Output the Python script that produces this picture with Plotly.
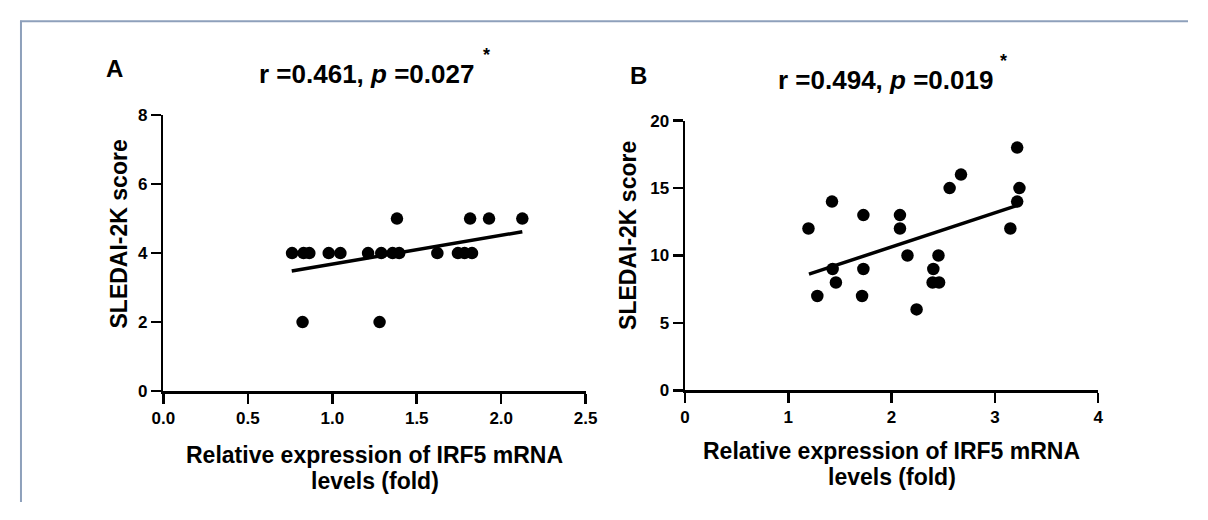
import plotly.graph_objects as go

# ---------------- data ----------------
a_x = [0.762, 0.830, 0.864, 0.979, 1.048, 1.212, 1.290, 1.357, 1.396, 1.622, 1.744, 1.783, 1.827,
       1.383, 1.816, 1.928, 2.125,
       0.824, 1.280]
a_y = [4, 4, 4, 4, 4, 4, 4, 4, 4, 4, 4, 4, 4,
       5, 5, 5, 5,
       2, 2]
a_fit_x = [0.76, 2.125]
a_fit_y = [3.48, 4.62]

b_x = [1.195, 1.423, 1.281, 1.429, 1.461, 1.727, 1.727, 1.714, 2.081, 2.081, 2.154,
       2.242, 2.404, 2.397, 2.460, 2.454, 2.562, 2.672, 3.150, 3.216, 3.238, 3.216]
b_y = [12, 14, 7, 9, 8, 13, 9, 7, 13, 12, 10,
       6, 9, 8, 8, 10, 15, 16, 12, 18, 15, 14]
b_fit_x = [1.20, 3.226]
b_fit_y = [8.62, 13.73]

a_xticks = [0.0, 0.5, 1.0, 1.5, 2.0, 2.5]
a_xticklabels = ["0.0", "0.5", "1.0", "1.5", "2.0", "2.5"]
a_yticks = [0, 2, 4, 6, 8]
b_xticks = [0, 1, 2, 3, 4]
b_yticks = [0, 5, 10, 15, 20]

title_a = "r =0.461, <i>p</i> =0.027"
title_b = "r =0.494, <i>p</i> =0.019"
x_title_1 = "Relative expression of IRF5 mRNA"
x_title_2 = "levels (fold)"
y_title = "SLEDAI-2K score"

# ---------------- figure ----------------
# The page body keeps its default 8px margin, so the figure is 16px smaller
# than the 1208x520 window and every position below is given in window pixels.
PAGE_MARGIN = 8
W, H = 1208 - 2 * PAGE_MARGIN, 520 - 2 * PAGE_MARGIN
FONT = "Liberation Sans, Arial, sans-serif"

def px(x):
    return (x - PAGE_MARGIN) / W

def py(y):
    return 1 - (y - PAGE_MARGIN) / H

fig = go.Figure()

fig.add_trace(go.Scatter(x=a_x, y=a_y, mode="markers", xaxis="x", yaxis="y",
                         marker=dict(color="black", size=12.5), showlegend=False))
fig.add_trace(go.Scatter(x=a_fit_x, y=a_fit_y, mode="lines", xaxis="x", yaxis="y",
                         line=dict(color="black", width=3.5), showlegend=False))
fig.add_trace(go.Scatter(x=b_x, y=b_y, mode="markers", xaxis="x2", yaxis="y2",
                         marker=dict(color="black", size=12.5), showlegend=False))
fig.add_trace(go.Scatter(x=b_fit_x, y=b_fit_y, mode="lines", xaxis="x2", yaxis="y2",
                         line=dict(color="black", width=3.5), showlegend=False))

axis_common = dict(showgrid=False, zeroline=False, showline=True, linecolor="black",
                   linewidth=2.5, ticks="outside", ticklen=10, tickwidth=2.5,
                   tickcolor="black",
                   tickfont=dict(family=FONT, size=17, color="black", weight="bold"))

fig.update_layout(
    width=W, height=H,
    margin=dict(l=0, r=0, t=0, b=0),
    paper_bgcolor="white", plot_bgcolor="white",
    hovermode=False,
    xaxis=dict(domain=[px(154.3), px(585.3)], range=[0, 2.5], tickvals=a_xticks,
               ticktext=a_xticklabels, anchor="y", **axis_common),
    yaxis=dict(domain=[py(396.7), py(110)], range=[0, 8], tickvals=a_yticks,
               anchor="x", **axis_common),
    xaxis2=dict(domain=[px(686.7), px(1108.3)], range=[0, 4], tickvals=b_xticks,
                anchor="y2", **axis_common),
    yaxis2=dict(domain=[py(396), py(115.7)], range=[0, 20], tickvals=b_yticks,
                anchor="x2", **axis_common),
)

ann = []
def add(text, x, y, size, xanchor="center", yanchor="middle", angle=0):
    ann.append(dict(text=text, x=px(x), y=py(y), xref="paper", yref="paper",
                    showarrow=False, xanchor=xanchor, yanchor=yanchor, textangle=angle,
                    font=dict(family=FONT, size=size, color="black", weight="bold")))

add("A", 94, 62, 24, xanchor="left")
add("B", 628, 69, 24, xanchor="left")
add(title_a, 362, 67, 26)
add("*", 484, 48, 18)
add(title_b, 891, 73, 26)
add("*", 1012, 54, 18)
add(x_title_1, 370, 463, 23)
add(x_title_2, 370, 490, 23)
add(x_title_1, 897.5, 459, 23)
add(x_title_2, 897.5, 486, 23)
add(y_title, 109, 233, 23, angle=-90)
add(y_title, 629, 235, 23, angle=-90)
fig.update_layout(annotations=ann)

border = "#8ea0bb"
fig.update_layout(shapes=[
    dict(type="line", xref="paper", yref="paper", x0=px(9), x1=px(9), y0=0, y1=py(12),
         line=dict(color=border, width=2)),
    dict(type="line", xref="paper", yref="paper", x0=px(8), x1=1, y0=py(12.5), y1=py(12.5),
         line=dict(color=border, width=2)),
])

fig.write_html("out.html", config={"displayModeBar": False, "staticPlot": True})
